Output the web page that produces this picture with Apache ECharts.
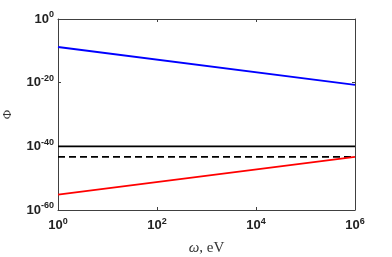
<!DOCTYPE html>
<html><head><meta charset="utf-8">
<script src="https://cdn.jsdelivr.net/npm/echarts@6/dist/echarts.min.js"></script>
<style>html,body{margin:0;padding:0;background:#fff}#c{width:392px;height:257px}</style>
</head><body><div id="c"></div>
<script>
const xValues = [1, 1e6];
const blueValues = [1.6e-9, 2.0e-21];
const blackSolidValues = [1e-40, 1e-40];
const blackDashedValues = [5.0e-44, 5.0e-44];
const redValues = [6.3e-56, 5.0e-44];
const xTicks = [0, 2, 4, 6];      // exponents of 10
const yTicks = [-60, -40, -20, 0]; // exponents of 10
const xTitle = '{i|ω}, eV';
const yTitle = 'Φ';

// log-log plot: the axes are linear in log10 of the values
function pair(ys){ return xValues.map((x,i)=>[Math.log10(x), Math.log10(ys[i])]); }
const axisCol = '#404040';
function expLabel(v){ return '{b|10}{s|' + Math.round(v) + '}'; }
const labelRich = {
  b:{fontFamily:'Liberation Sans',fontWeight:'bold',fontSize:13,color:'#222'},
  s:{fontFamily:'Liberation Sans',fontWeight:'bold',fontSize:9,color:'#222',verticalAlign:'bottom',padding:[0,0,8,0]}
};
const xMin = xTicks[0], xMax = xTicks[xTicks.length-1], xInt = xTicks[1]-xTicks[0];
const yMin = yTicks[0], yMax = yTicks[yTicks.length-1], yInt = yTicks[1]-yTicks[0];
const tick = {show:true,inside:true,length:3,lineStyle:{color:axisCol}};
const line = {show:true,onZero:false,lineStyle:{color:axisCol,width:1}};
const chart = echarts.init(document.getElementById('c'));
chart.setOption({
  animation:false,
  grid:{left:58,right:37,top:19,bottom:47,containLabel:false,outerBoundsMode:'none'},
  xAxis:[{type:'value',min:xMin,max:xMax,interval:xInt,
    axisLine:line, axisTick:tick,
    axisLabel:{formatter:expLabel,rich:labelRich,margin:7},
    splitLine:{show:false},
    name:xTitle,nameLocation:'middle',nameGap:31,
    nameTextStyle:{fontFamily:'Liberation Serif',fontSize:15,color:'#333',
      rich:{i:{fontFamily:'Liberation Serif',fontStyle:'italic',fontSize:15,color:'#333'}}}},
   {type:'value',min:xMin,max:xMax,interval:xInt,position:'top',
    axisLine:line, axisTick:tick, axisLabel:{show:false},splitLine:{show:false}}],
  yAxis:[{type:'value',min:yMin,max:yMax,interval:yInt,
    axisLine:line, axisTick:tick,
    axisLabel:{formatter:expLabel,rich:labelRich,margin:4},
    splitLine:{show:false},
    name:yTitle,nameLocation:'middle',nameGap:44,nameRotate:90,
    nameTextStyle:{fontFamily:'Liberation Serif',fontSize:13,color:'#333'}},
   {type:'value',min:yMin,max:yMax,interval:yInt,position:'right',
    axisLine:line, axisTick:tick, axisLabel:{show:false},splitLine:{show:false}}],
  series:[
    {type:'line',data:pair(blueValues),symbol:'none',lineStyle:{color:'#0000ff',width:1.8}},
    {type:'line',data:pair(blackSolidValues),symbol:'none',lineStyle:{color:'#000',width:1.8}},
    {type:'line',data:pair(blackDashedValues),symbol:'none',lineStyle:{color:'#000',width:1.8,type:[7,4]}},
    {type:'line',data:pair(redValues),symbol:'none',lineStyle:{color:'#ff0000',width:1.8}}
  ]
});
</script></body></html>
